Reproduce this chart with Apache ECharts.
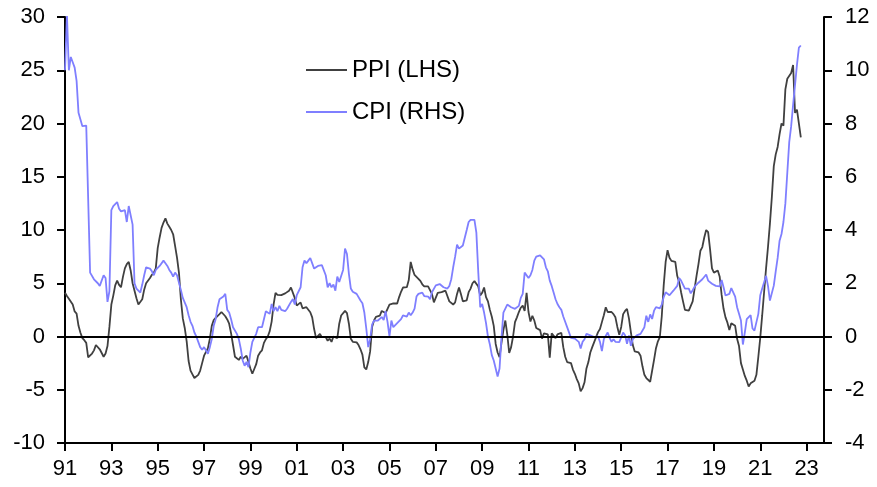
<!DOCTYPE html>
<html>
<head>
<meta charset="utf-8">
<script src="https://cdn.jsdelivr.net/npm/echarts@6/dist/echarts.min.js"></script>
<style>
html,body{margin:0;padding:0;background:#fff;}
#chart{width:877px;height:487px;}
</style>
</head>
<body>
<div id="chart"></div>
<script>
// Monthly data, Jan 1991 .. Oct 2022
const startYear = 1991;
const seriesNames = ['PPI (LHS)', 'CPI (RHS)'];
const xTickLabels = ['91','93','95','97','99','01','03','05','07','09','11','13','15','17','19','21','23'];

const ppi = [
  4.1, 3.8, 3.55, 3.4, 3.0, 2.35, 2.15, 1.0, 0.35, -0.15, -0.35, -0.6,
  -1.95, -1.85, -1.6, -1.3, -0.8, -0.75, -1.2, -1.55, -1.9, -1.6, -0.9, 0.9,
  3.0, 3.84, 4.8, 5.25, 4.85, 4.62, 5.6, 6.4, 6.8, 7.0, 6.2, 5.0,
  4.3, 3.6, 3.0, 2.9, 3.5, 4.4, 5.0, 5.1, 5.5, 5.8, 6.0, 6.4,
  8.3, 9.3, 10.2, 10.7, 11.1, 10.6, 10.3, 10.0, 9.6, 8.5, 7.4, 6.0,
  3.5, 1.7, 0.8, -0.45, -2.3, -3.2, -3.55, -3.9, -3.85, -3.6, -3.2, -2.5,
  -1.8, -1.65, -1.1, -0.2, 1.0, 1.55, 1.75, 1.9, 2.1, 2.3, 2.2, 1.9,
  1.6, 1.2, 0.3, -0.8, -1.9, -1.8, -2.2, -1.9, -2.1, -2.2, -1.8, -2.4,
  -3.0, -3.5, -3.05, -2.6, -1.8, -1.5, -1.3, -0.6, -0.25, 0.0, 0.5, 1.4,
  3.0, 4.1, 3.9, 4.0, 3.88, 3.95, 4.05, 4.15, 4.3, 4.6, 4.55, 3.6,
  2.9, 3.0, 3.2, 2.65, 2.7, 2.75, 2.7, 2.28, 1.8, 0.7, -0.15, -0.1,
  0.25, -0.06, -0.2, -0.05, -0.4, -0.2, -0.5, 0.0, 0.05, -0.15, 1.2, 1.97,
  2.1, 2.4, 2.2, 1.2, -0.22, -0.5, -0.45, -0.55, -0.8, -1.2, -1.7, -2.9,
  -3.1, -2.4, -1.4, 0.9, 1.5, 1.85, 2.0, 1.95, 2.4, 2.3, 2.2, 2.6,
  3.0, 2.9, 3.1, 2.95, 3.1, 3.7, 4.2, 4.6, 4.75, 4.63, 5.3, 7.0,
  6.3, 5.78, 5.6, 5.42, 5.22, 4.9, 4.7, 4.7, 4.7, 4.55, 4.0, 3.2,
  3.1, 4.1, 4.1, 4.16, 4.0, 4.3, 4.4, 3.3, 3.4, 3.0, 3.2, 4.0,
  4.6, 4.0, 3.3, 3.2, 3.4, 4.16, 4.5, 5.0, 5.2, 5.35, 4.7, 3.84,
  4.1, 4.6, 3.7, 3.3, 2.5, 1.85, 1.0, -0.7, -1.5, -1.93, -0.6, 0.6,
  1.5, 0.2, -1.55, -1.0, 0.0, 1.35, 1.8, 2.3, 2.7, 2.9, 2.4, 4.1,
  2.3, 1.4, 1.95, 1.5, 0.8, 0.9, 0.6, -0.2, 0.3, 0.15, 0.2, -2.0,
  0.3, 0.25, -0.15, 0.2, 0.1, 0.35, -1.0, -1.9, -2.4, -2.3, -2.5, -3.1,
  -3.5, -4.0, -4.4, -5.15, -4.85, -4.3, -3.0, -2.4, -1.5, -1.0, -0.53, -0.06,
  0.41, 0.7, 1.35, 2.0, 2.75, 2.3, 2.2, 2.3, 2.1, 1.8, 0.9, 0.15,
  0.9, 2.1, 2.4, 2.6, 1.7, 0.4, -0.8, -1.4, -1.46, -1.5, -1.8, -2.8,
  -3.6, -3.9, -4.05, -4.25, -4.1, -2.2, -1.1, -0.45, -0.05, 1.9, 4.8, 7.0,
  8.1, 7.4, 7.1, 7.28, 7.0, 5.7, 5.1, 4.16, 3.3, 2.5, 2.6, 2.43,
  2.43, 3.3, 4.5, 5.7, 6.8, 8.05, 8.4, 9.3, 10.0, 9.8, 8.2, 6.4,
  6.0, 5.9, 6.2, 5.6, 3.9, 2.6, 1.8, 1.3, 0.6, 1.25, 1.35, 1.0,
  -0.22, -0.9, -2.5, -3.1, -3.7, -4.15, -4.7, -4.4, -4.25, -4.15, -3.6, -1.9,
  -0.1, 2.0, 4.2, 6.4, 8.4, 10.6, 13.1, 16.0, 17.1, 17.8, 19.0, 20.0,
  19.8, 23.2, 24.2, 24.2, 24.75, 25.5, 21.0, 21.3, 21.3, 18.7
];

const cpi = [
  10.0, 12.1, 10.0, 10.5, 10.3, 10.1, 9.6, 8.4, 8.15, 7.9, 7.95, 7.92,
  7.9, 2.4, 2.45, 2.15, 2.1, 2.0, 1.9, 1.85, 2.3, 2.2, 1.3, 1.7,
  4.75, 4.9, 4.95, 5.05, 4.8, 4.7, 4.7, 4.75, 4.3, 4.9, 4.85, 4.2,
  2.0, 1.8, 1.75, 1.65, 1.95, 2.3, 2.6, 2.65, 2.55, 2.45, 2.3, 2.5,
  2.55, 2.65, 2.7, 2.85, 2.75, 2.65, 2.5, 2.4, 2.25, 2.4, 2.3, 2.25,
  1.75, 1.45, 1.4, 1.1, 0.8, 0.55, 0.4, 0.15, 0.0, -0.2, -0.4, -0.5,
  -0.4, -0.36, -0.65, -0.4, -0.1, 0.4, 0.65, 1.1, 1.4, 1.47, 1.5, 1.6,
  1.0, 0.9, 0.65, 0.35, 0.4, 0.1, -0.1, -0.45, -0.9, -1.1, -0.95, -1.15,
  -0.6, -0.2, -0.05, 0.1, 0.35, 0.4, 0.35, 0.65, 0.95, 1.0, 0.85, 1.22,
  0.95, 1.1, 0.95, 1.15, 1.0, 1.0, 0.95, 1.04, 1.1, 1.3, 1.41, 1.2,
  1.55, 1.6, 1.85, 2.6, 2.85, 2.75, 2.85, 2.95, 3.0, 2.55, 2.6, 2.65,
  2.7, 2.68, 2.7, 2.3, 1.85, 2.0, 1.85, 1.95, 1.72, 2.25, 2.05, 2.1,
  2.5, 3.3, 3.1, 2.35, 1.8, 1.68, 1.64, 1.6, 1.54, 1.35, 1.25, 0.9,
  0.3, -0.4, -0.1, 0.45, 0.6, 0.56, 0.6, 0.66, 0.73, 0.62, 0.95, 0.55,
  0.0, 0.6, 0.35, 0.3, 0.5, 0.45, 0.65, 0.79, 0.85, 0.75, 0.9, 0.8,
  0.9, 1.05, 1.5, 1.6, 1.66, 1.65, 1.52, 1.48, 1.5, 1.4, 1.66, 1.72,
  1.92, 1.97, 1.97, 1.9, 1.85, 1.85, 1.8, 1.9, 2.15, 2.6, 3.0, 3.45,
  3.3, 3.3, 3.42, 3.45, 4.0, 4.3, 4.38, 4.38, 4.38, 3.9, 2.4, 1.1,
  1.22, 0.9, 0.5, 0.0, -0.3, -0.7, -0.9, -0.85, -1.5, -1.2, -0.05, 0.9,
  0.85, 1.2, 1.22, 1.1, 1.16, 1.04, 0.97, 1.15, 1.45, 1.6, 2.4, 2.35,
  2.2, 2.3, 2.5, 2.85, 3.0, 2.95, 3.05, 3.03, 2.9, 2.6, 2.45, 2.1,
  1.9, 1.65, 1.4, 1.22, 1.1, 1.0, 0.75, 0.68, 0.35, 0.35, -0.05, 0.0,
  -0.08, -0.06, -0.2, -0.45, -0.2, -0.1, 0.1, 0.1, 0.04, 0.1, -0.02, 0.04,
  0.0, -0.2, -0.55, -0.1, -0.1, 0.15, -0.05, -0.2, -0.1, -0.2, -0.27, -0.21,
  -0.2, 0.15, 0.05, -0.27, 0.04, -0.35, -0.1, -0.12, 0.04, 0.1, 0.1, 0.15,
  0.35, 0.78, 0.55, 0.83, 0.66, 0.97, 1.1, 1.12, 1.06, 1.2, 1.48, 1.66,
  1.68, 1.55, 1.55, 1.72, 1.75, 1.9, 2.2, 2.1, 1.95, 1.8, 1.85, 1.8,
  1.62, 1.74, 1.87, 1.88, 2.02, 2.05, 2.15, 2.08, 2.33, 2.1, 2.08, 1.98,
  1.97, 1.9, 1.9, 1.88, 2.12, 1.85, 1.54, 1.5, 1.6, 1.82, 1.78, 1.5,
  1.1, 0.85, 0.6, -0.3, 0.15, 0.65, 0.7, 0.8, 0.3, 0.22, 0.29, 0.85,
  1.55, 1.8, 2.04, 2.28, 1.9, 1.35, 1.41, 1.91, 2.45, 2.95, 3.6, 3.85,
  4.3, 5.0, 6.15, 7.3, 7.9, 8.7, 8.75, 10.2, 10.85, 10.93
];

const toPairs = arr => arr.map((v, i) => [i / 12, v]);
const xTickValues = xTickLabels.map((_, i) => i * 2);
const labelFont = 'Liberation Sans, Arial, sans-serif';

const chart = echarts.init(document.getElementById('chart'), null, {renderer: 'canvas'});
chart.setOption({
  animation: false,
  backgroundColor: '#fff',
  grid: {left: 65, right: 53, top: 17, bottom: 44, containLabel: false},
  legend: {
    data: seriesNames.map(n => ({name: n, icon: 'rect'})),
    orient: 'vertical',
    left: 306,
    top: 58,
    itemWidth: 41,
    itemHeight: 2,
    itemGap: 18,
    padding: 0,
    textStyle: {fontSize: 24, color: '#000', fontFamily: labelFont}
  },
  xAxis: {
    type: 'value',
    min: 0,
    max: 32.75,
    splitLine: {show: false},
    axisLine: {show: true, onZero: false, lineStyle: {color: '#000', width: 2}},
    axisTick: {show: true, length: 8, inside: false, customValues: xTickValues, lineStyle: {color: '#000', width: 2}},
    axisLabel: {
      customValues: xTickValues,
      formatter: v => xTickLabels[Math.round(v / 2)] || '',
      fontSize: 22, color: '#000', fontFamily: labelFont, margin: 15
    }
  },
  yAxis: [
    {
      type: 'value', position: 'left', min: -10, max: 30, interval: 5,
      splitLine: {show: false},
      axisLine: {show: true, onZero: false, lineStyle: {color: '#000', width: 2}},
      axisTick: {show: true, length: 8, lineStyle: {color: '#000', width: 2}},
      axisLabel: {fontSize: 22, color: '#000', fontFamily: labelFont, margin: 20}
    },
    {
      type: 'value', position: 'right', min: -4, max: 12, interval: 2,
      splitLine: {show: false},
      axisLine: {show: true, onZero: false, lineStyle: {color: '#000', width: 2}},
      axisTick: {show: true, length: 8, lineStyle: {color: '#000', width: 2}},
      axisLabel: {fontSize: 22, color: '#000', fontFamily: labelFont, margin: 21}
    }
  ],
  series: [
    {
      name: seriesNames[0], type: 'line', yAxisIndex: 0,
      data: toPairs(ppi), showSymbol: false, symbol: 'none',
      lineStyle: {color: '#404040', width: 1.8}, itemStyle: {color: '#404040'},
      markLine: {
        silent: true, symbol: ['none', 'none'], label: {show: false},
        lineStyle: {color: '#000', width: 2, type: 'solid'},
        data: [{yAxis: 0}]
      }
    },
    {
      name: seriesNames[1], type: 'line', yAxisIndex: 1,
      data: toPairs(cpi), showSymbol: false, symbol: 'none',
      lineStyle: {color: '#7f7fff', width: 1.8}, itemStyle: {color: '#7f7fff'}
    }
  ]
});
</script>
</body>
</html>
